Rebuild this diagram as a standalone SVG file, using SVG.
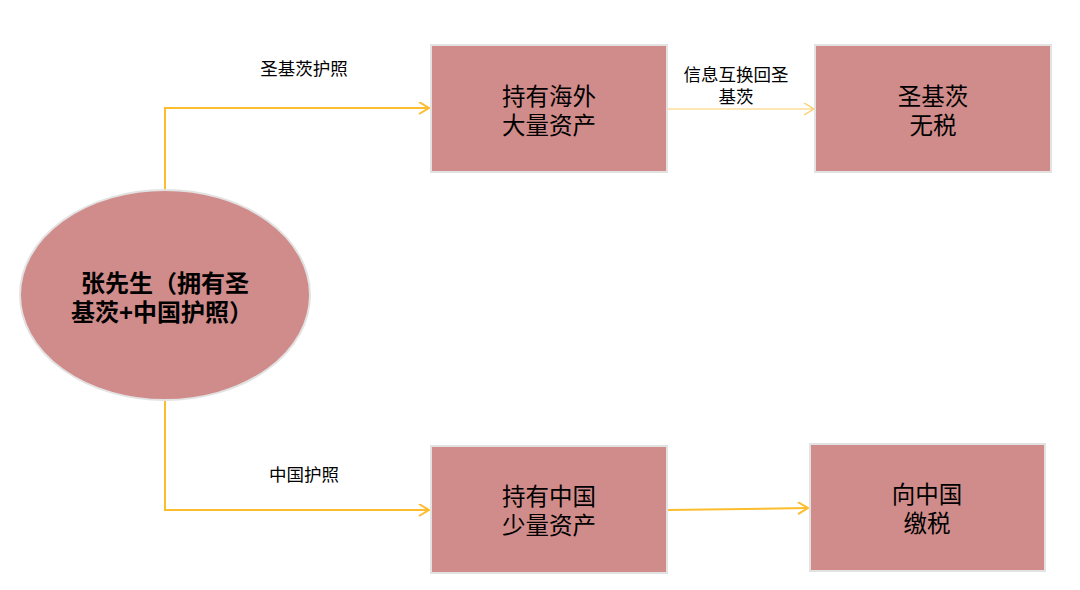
<svg xmlns="http://www.w3.org/2000/svg" width="1080" height="590" viewBox="0 0 1080 590">
<style>
.node{fill:#D08C8A;stroke:#E2E2E2;stroke-width:2}
.t{font-family:"Liberation Sans","Noto Sans CJK SC",sans-serif;fill:#000;text-anchor:middle}
.box{font-size:23.5px}
.lab{font-size:17.5px}
.c{fill:none;stroke:#FBBD2E;stroke-width:2}
.c2{fill:none;stroke:#FBCB6A;stroke-width:1.2}
</style>
<defs>
<marker id="ah" markerWidth="14" markerHeight="14" refX="11" refY="6" orient="auto" markerUnits="userSpaceOnUse">
<path d="M1,0 L11,6 L1,12" fill="none" stroke="#FBBD2E" stroke-width="2"/>
</marker>
<marker id="ah2" markerWidth="14" markerHeight="14" refX="11" refY="6" orient="auto" markerUnits="userSpaceOnUse">
<path d="M1,0 L11,6 L1,12" fill="none" stroke="#FBCB6A" stroke-width="1.3"/>
</marker>
</defs>
<rect width="1080" height="590" fill="#fff"/>
<g id="connectors">
<path class="c" d="M165,190 V108 H429" marker-end="url(#ah)"/>
<path class="c" d="M165,400 V510 H429" marker-end="url(#ah)"/>
<path class="c2" d="M668,109 H814" marker-end="url(#ah2)"/>
<path class="c" d="M668,510 L808,508" marker-end="url(#ah)"/>
<text class="t lab" x="304" y="75">圣基茨护照</text>
<text class="t lab" x="304" y="481">中国护照</text>
<text class="t lab" x="736" y="81">信息互换回圣</text>
<text class="t lab" x="736" y="103">基茨</text>
</g>
<g id="zhang">
<ellipse class="node" cx="165" cy="295" rx="145" ry="105"/>
<text class="t" font-size="24" font-weight="bold" x="165" y="292">张先生（拥有圣</text>
<text class="t" font-size="24" font-weight="bold" x="162" y="321">基茨+中国护照）</text>
</g>
<g id="overseas">
<rect class="node" x="431" y="45" width="236" height="127"/>
<text class="t box" x="549" y="105">持有海外</text>
<text class="t box" x="549" y="134">大量资产</text>
</g>
<g id="skn">
<rect class="node" x="815" y="45" width="236" height="127"/>
<text class="t box" x="933" y="105">圣基茨</text>
<text class="t box" x="933" y="134">无税</text>
</g>
<g id="china">
<rect class="node" x="431" y="446" width="236" height="127"/>
<text class="t box" x="549" y="505">持有中国</text>
<text class="t box" x="549" y="534">少量资产</text>
</g>
<g id="tax">
<rect class="node" x="810" y="444" width="235" height="127"/>
<text class="t box" x="927" y="503">向中国</text>
<text class="t box" x="927" y="532">缴税</text>
</g>
</svg>
